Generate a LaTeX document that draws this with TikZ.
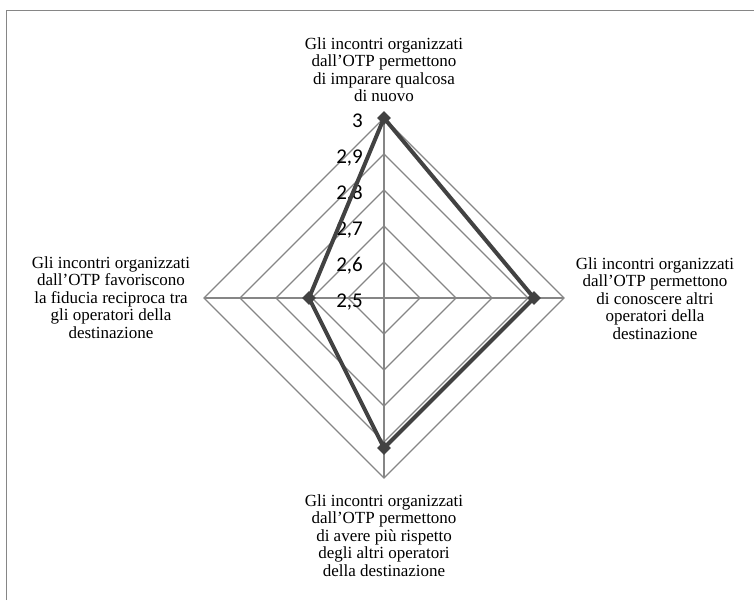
\documentclass[tikz,border=0pt]{standalone}
\usepackage{fontspec}
\usetikzlibrary{shapes.geometric}
\newfontfamily\ticksfont{Carlito}
\newfontfamily\captfamily{Liberation Serif}
\newcommand\captfont{\captfamily\fontsize{17}{17.5}\selectfont}
\definecolor{gridgray}{HTML}{868686}
\definecolor{seriesgray}{HTML}{424242}
\tikzset{
  frameline/.style={draw=gridgray, line width=1.6pt},
  gridline/.style={draw=gridgray, line width=1.3pt},
  seriesline/.style={draw=seriesgray, line width=4pt, line join=round},
  seriesmark/.style={diamond, fill=seriesgray, draw=none, inner sep=0pt, minimum width=14pt, minimum height=14pt},
  axislabel/.style={font=\captfont, align=center, anchor=north, inner sep=0pt},
  ticklabel/.style={font=\ticksfont\fontsize{21}{24}\selectfont, anchor=base east, inner sep=0pt},
}
\begin{document}
\begin{tikzpicture}[x=1pt, y=-1pt]
  \useasboundingbox (0,0) rectangle (754,600);
  % outer frame (top and left edges)
  \draw[frameline] (6.5,600) -- (6.5,10.5) -- (754,10.5);

  % centre and outer spoke ends
  \coordinate (O) at (384,298);
  \coordinate (vt) at (384,118);
  \coordinate (vr) at (564,298);
  \coordinate (vb) at (384,478);
  \coordinate (vl) at (204,298);

  % concentric rings 2,6 ... 3
  \foreach \r in {36,72,108,144,180}
    \draw[gridline] (384,298-\r) -- (384+\r,298) -- (384,298+\r) -- (384-\r,298) -- cycle;
  % spokes
  \draw[gridline] (O) -- (vt);
  \draw[gridline] (O) -- (vr);
  \draw[gridline] (O) -- (vb);
  \draw[gridline] (O) -- (vl);

  % scale values
  \node[ticklabel] (t30) at (363,127) {3};
  \node[ticklabel] (t29) at (363,163) {2,9};
  \node[ticklabel] (t28) at (363,199) {2,8};
  \node[ticklabel] (t27) at (363,235) {2,7};
  \node[ticklabel] (t26) at (363,271) {2,6};
  \node[ticklabel] (t25) at (363,307) {2,5};

  % data series
  \coordinate (d1) at (384,118);
  \coordinate (d2) at (534,298);
  \coordinate (d3) at (384,448);
  \coordinate (d4) at (309,298);
  \draw[seriesline] (d1) -- (d2) -- (d3) -- (d4) -- cycle;
  \node[seriesmark] (m1) at (d1) {};
  \node[seriesmark] (m2) at (d2) {};
  \node[seriesmark] (m3) at (d3) {};
  \node[seriesmark] (m4) at (d4) {};

  % category labels
  \node[axislabel] (lt) at (384,37.2) {Gli incontri organizzati\\dall’OTP permettono\\di imparare qualcosa\\di nuovo};
  \node[axislabel] (lr) at (655,257.2) {Gli incontri organizzati\\dall’OTP permettono\\di conoscere altri\\operatori della\\destinazione};
  \node[axislabel] (lb) at (384,494.2) {Gli incontri organizzati\\dall’OTP permettono\\di avere più rispetto\\degli altri operatori\\della destinazione};
  \node[axislabel] (ll) at (111,256.2) {Gli incontri organizzati\\dall’OTP favoriscono\\la fiducia reciproca tra\\gli operatori della\\destinazione};
\end{tikzpicture}
\end{document}
